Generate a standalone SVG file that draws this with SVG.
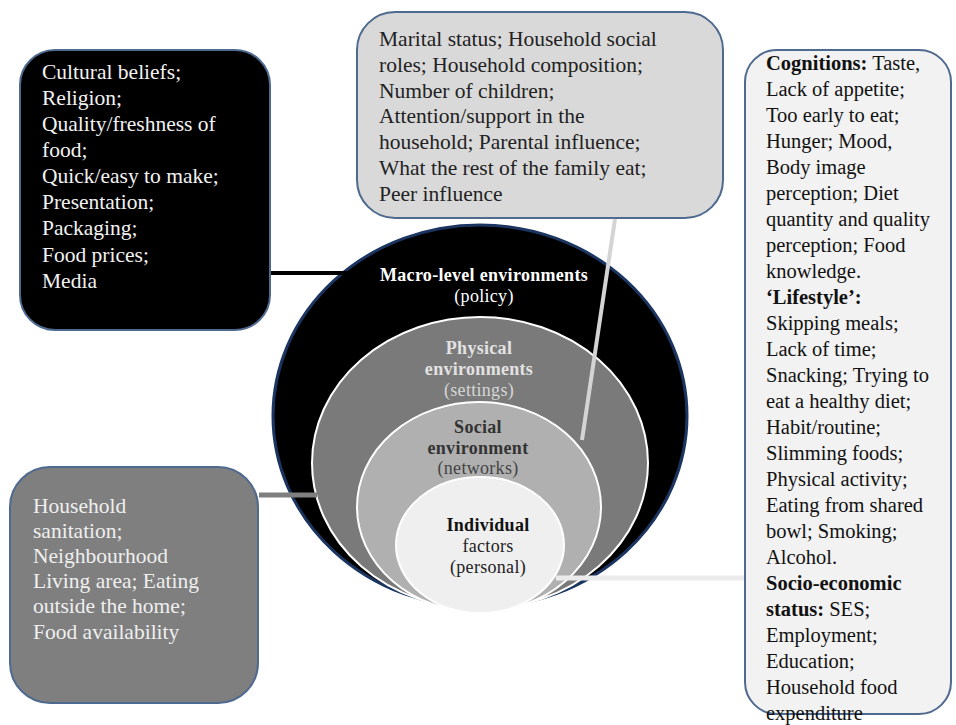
<svg xmlns="http://www.w3.org/2000/svg" width="956" height="725" viewBox="0 0 956 725">
<style>
.box{stroke:#4f6a8f;stroke-width:2}
.t{font-family:"Liberation Serif","Times New Roman",serif;font-size:21.5px}
.tr{font-family:"Liberation Serif","Times New Roman",serif;font-size:20.5px;fill:#111}
.c{font-family:"Liberation Serif","Times New Roman",serif;font-size:18px;text-anchor:middle;letter-spacing:0.3px}
.b{font-weight:bold}
.ring{stroke:#ffffff;stroke-width:2}
</style>
<rect width="956" height="725" fill="#ffffff"/>
<g id="rings">
<ellipse id="macro" cx="480" cy="416" rx="207" ry="191" fill="#000" stroke="#1b3560" stroke-width="3"/>
<ellipse id="physical" class="ring" cx="480" cy="463" rx="168" ry="146" fill="#7a7a7a"/>
<ellipse id="social" class="ring" cx="479" cy="507" rx="122" ry="105" fill="#b0b0b0"/>
<ellipse id="individual" class="ring" cx="480" cy="545" rx="84" ry="68" fill="#efefef"/>
<text class="c b" x="484" y="281" fill="#ffffff">Macro-level environments</text>
<text class="c" x="484" y="302" fill="#ffffff">(policy)</text>
<text class="c b" x="479" y="354" fill="#e2e2e2">Physical</text>
<text class="c b" x="479" y="375" fill="#e2e2e2">environments</text>
<text class="c" x="479" y="396" fill="#d6d6d6">(settings)</text>
<text class="c b" x="478" y="433" fill="#333">Social</text>
<text class="c b" x="478" y="454" fill="#333">environment</text>
<text class="c" x="478" y="474" fill="#444">(networks)</text>
<text class="c b" x="488" y="531" fill="#111">Individual</text>
<text class="c" x="488" y="552" fill="#222">factors</text>
<text class="c" x="488" y="573" fill="#222">(personal)</text>
</g>
<g id="macro-box">
<rect class="box" x="20" y="50" width="250" height="280" rx="35" fill="#000"/>
<text class="t" fill="#f2f2f2">
<tspan x="42" y="79">Cultural beliefs;</tspan>
<tspan x="42" y="105">Religion;</tspan>
<tspan x="42" y="131">Quality/freshness of</tspan>
<tspan x="42" y="157">food;</tspan>
<tspan x="42" y="183">Quick/easy to make;</tspan>
<tspan x="42" y="209">Presentation;</tspan>
<tspan x="42" y="235">Packaging;</tspan>
<tspan x="42" y="261.5">Food prices;</tspan>
<tspan x="42" y="288">Media</tspan>
</text>
</g>
<g id="social-box">
<rect class="box" x="357" y="12" width="366" height="206" rx="38" fill="#d9d9d9"/>
<text class="t" fill="#222">
<tspan x="379" y="46">Marital status; Household social</tspan>
<tspan x="379" y="71.8">roles; Household composition;</tspan>
<tspan x="379" y="97.6">Number of children;</tspan>
<tspan x="379" y="123.4">Attention/support in the</tspan>
<tspan x="379" y="149.2">household; Parental influence;</tspan>
<tspan x="379" y="175">What the rest of the family eat;</tspan>
<tspan x="379" y="200.8">Peer influence</tspan>
</text>
</g>
<g id="physical-box">
<rect class="box" x="10" y="467" width="248" height="236" rx="40" fill="#7f7f7f"/>
<text class="t" fill="#efefef">
<tspan x="33" y="512.5">Household</tspan>
<tspan x="33" y="537.7">sanitation;</tspan>
<tspan x="33" y="562.9">Neighbourhood</tspan>
<tspan x="33" y="588.1">Living area; Eating</tspan>
<tspan x="33" y="613.3">outside the home;</tspan>
<tspan x="33" y="638.5">Food availability</tspan>
</text>
</g>
<g id="individual-box">
<rect class="box" x="745" y="50" width="206" height="664" rx="32" fill="#f2f2f2"/>
<text class="tr">
<tspan x="766" y="70"><tspan class="b">Cognitions:</tspan> Taste,</tspan>
<tspan x="766" y="96">Lack of appetite;</tspan>
<tspan x="766" y="122">Too early to eat;</tspan>
<tspan x="766" y="148">Hunger; Mood,</tspan>
<tspan x="766" y="174">Body image</tspan>
<tspan x="766" y="200">perception; Diet</tspan>
<tspan x="766" y="226">quantity and quality</tspan>
<tspan x="766" y="252">perception; Food</tspan>
<tspan x="766" y="278">knowledge.</tspan>
<tspan x="766" y="304" class="b">‘Lifestyle’:</tspan>
<tspan x="766" y="330">Skipping meals;</tspan>
<tspan x="766" y="356">Lack of time;</tspan>
<tspan x="766" y="382">Snacking; Trying to</tspan>
<tspan x="766" y="408">eat a healthy diet;</tspan>
<tspan x="766" y="434">Habit/routine;</tspan>
<tspan x="766" y="460">Slimming foods;</tspan>
<tspan x="766" y="486">Physical activity;</tspan>
<tspan x="766" y="512">Eating from shared</tspan>
<tspan x="766" y="538">bowl; Smoking;</tspan>
<tspan x="766" y="564">Alcohol.</tspan>
<tspan x="766" y="590" class="b">Socio-economic</tspan>
<tspan x="766" y="616"><tspan class="b">status:</tspan> SES;</tspan>
<tspan x="766" y="642">Employment;</tspan>
<tspan x="766" y="668">Education;</tspan>
<tspan x="766" y="694">Household food</tspan>
<tspan x="766" y="720">expenditure</tspan>
</text>
</g>
<g id="connectors" fill="none">
<line x1="271" y1="273" x2="350" y2="273" stroke="#000" stroke-width="4"/>
<line x1="259" y1="495" x2="317" y2="495" stroke="#7f7f7f" stroke-width="5"/>
<line x1="615" y1="219" x2="582" y2="440" stroke="#d4d4d4" stroke-width="4"/>
<line x1="556" y1="578" x2="744" y2="578" stroke="#ebebeb" stroke-width="5"/>
</g>
</svg>
